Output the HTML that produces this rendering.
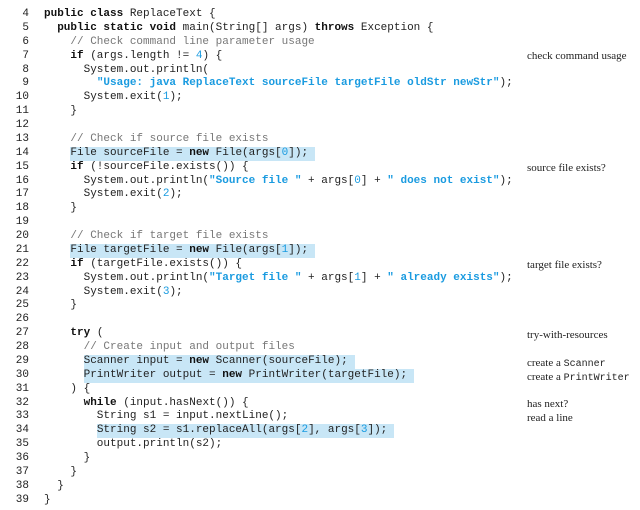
<!DOCTYPE html>
<html><head><meta charset="utf-8"><style>
body{margin:0;width:640px;height:510px;background:#fff;position:relative;overflow:hidden}
#code{position:absolute;left:0;top:8px;margin:0;font-family:"Liberation Mono",monospace;font-size:11px;line-height:13.87px;color:#222;white-space:pre}
.n{display:inline-block;width:29px;text-align:right;margin-right:15px}
b{font-weight:bold;color:#111}
.c{color:#777}
.s{color:#1a9be0;font-weight:bold}
.d{color:#1a9be0}
.h{background:#c8e6f6;display:inline-block;line-height:13.87px;padding-right:7px}
.a{position:absolute;left:527px;font-family:"Liberation Serif",serif;font-size:11px;color:#222;line-height:12px}
.a code{font-family:"Liberation Mono",monospace;font-size:10px}
</style></head><body>
<pre id="code"><span class="n">4</span><b>public class</b> ReplaceText {
<span class="n">5</span>  <b>public static void</b> main(String[] args) <b>throws</b> Exception {
<span class="n">6</span>    <span class="c">// Check command line parameter usage</span>
<span class="n">7</span>    <b>if</b> (args.length != <span class="d">4</span>) {
<span class="n">8</span>      System.out.println(
<span class="n">9</span>        <span class="s">"Usage: java ReplaceText sourceFile targetFile oldStr newStr"</span>);
<span class="n">10</span>      System.exit(<span class="d">1</span>);
<span class="n">11</span>    }
<span class="n">12</span>
<span class="n">13</span>    <span class="c">// Check if source file exists</span>
<span class="n">14</span>    <span class="h">File sourceFile = <b>new</b> File(args[<span class="d">0</span>]);</span>
<span class="n">15</span>    <b>if</b> (!sourceFile.exists()) {
<span class="n">16</span>      System.out.println(<span class="s">"Source file "</span> + args[<span class="d">0</span>] + <span class="s">" does not exist"</span>);
<span class="n">17</span>      System.exit(<span class="d">2</span>);
<span class="n">18</span>    }
<span class="n">19</span>
<span class="n">20</span>    <span class="c">// Check if target file exists</span>
<span class="n">21</span>    <span class="h">File targetFile = <b>new</b> File(args[<span class="d">1</span>]);</span>
<span class="n">22</span>    <b>if</b> (targetFile.exists()) {
<span class="n">23</span>      System.out.println(<span class="s">"Target file "</span> + args[<span class="d">1</span>] + <span class="s">" already exists"</span>);
<span class="n">24</span>      System.exit(<span class="d">3</span>);
<span class="n">25</span>    }
<span class="n">26</span>
<span class="n">27</span>    <b>try</b> (
<span class="n">28</span>      <span class="c">// Create input and output files</span>
<span class="n">29</span>      <span class="h">Scanner input = <b>new</b> Scanner(sourceFile);</span>
<span class="n">30</span>      <span class="h">PrintWriter output = <b>new</b> PrintWriter(targetFile);</span>
<span class="n">31</span>    ) {
<span class="n">32</span>      <b>while</b> (input.hasNext()) {
<span class="n">33</span>        String s1 = input.nextLine();
<span class="n">34</span>        <span class="h">String s2 = s1.replaceAll(args[<span class="d">2</span>], args[<span class="d">3</span>]);</span>
<span class="n">35</span>        output.println(s2);
<span class="n">36</span>      }
<span class="n">37</span>    }
<span class="n">38</span>  }
<span class="n">39</span>}</pre>
<div class="a" style="top:50px">check command usage</div>
<div class="a" style="top:162px">source file exists?</div>
<div class="a" style="top:259px">target file exists?</div>
<div class="a" style="top:329px">try-with-resources</div>
<div class="a" style="top:357px">create a <code>Scanner</code></div>
<div class="a" style="top:371px">create a <code>PrintWriter</code></div>
<div class="a" style="top:398px">has next?</div>
<div class="a" style="top:412px">read a line</div>
</body></html>
